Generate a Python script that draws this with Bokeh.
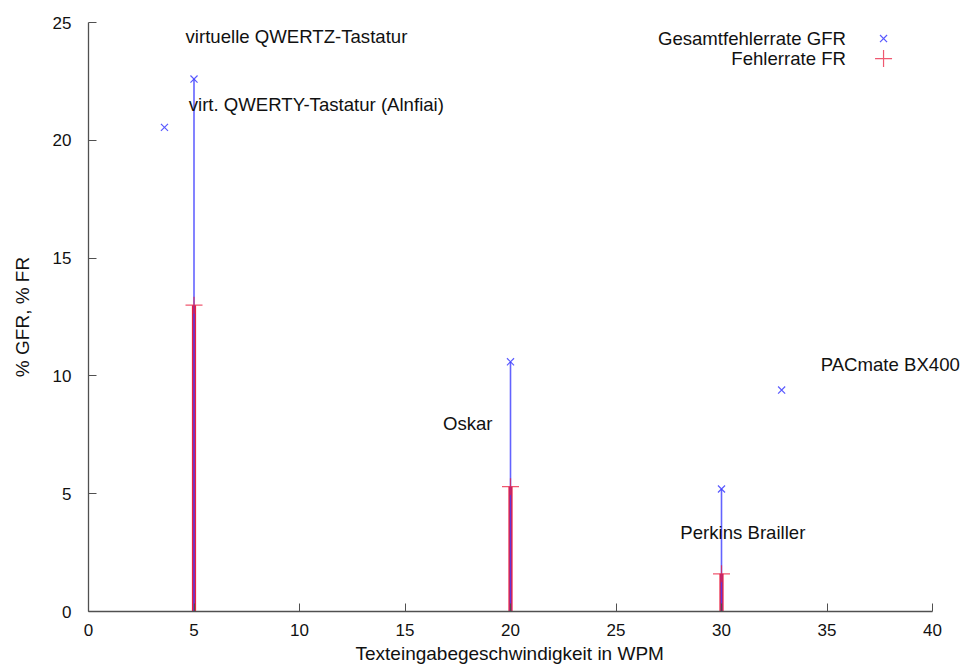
from bokeh.plotting import figure
from bokeh.models import Range1d, SingleIntervalTicker, ColumnDataSource, Label, Title
from bokeh.embed import file_html
from bokeh.resources import INLINE

# ---- data ----
wpm = [5, 20, 30]                 # devices with both rates
gfr = [22.6, 10.6, 5.2]           # Gesamtfehlerrate GFR (%)
fr = [13.0, 5.3, 1.6]             # Fehlerrate FR (%)
wpm_only = [3.6, 32.85]           # devices with GFR only
gfr_only = [20.55, 9.4]

label_text = ["virtuelle QWERTZ-Tastatur", "virt. QWERTY-Tastatur (Alnfiai)",
              "Oskar", "Perkins Brailler", "PACmate BX400"]
label_x = [4.6, 4.75, 19.15, 28.05, 34.7]
label_y = [24.4, 21.5, 8.0, 3.35, 10.5]
label_align = ["left", "left", "right", "left", "left"]

legend_text = ["Gesamtfehlerrate GFR", "Fehlerrate FR"]
legend_text_x = [35.9, 35.9]
legend_y = [24.32, 23.47]
legend_key_x = [37.68, 37.68]

X_AXIS = (0, 40)
Y_AXIS = (0, 25)
X_LABEL = "Texteingabegeschwindigkeit in WPM"
Y_LABEL = "% GFR, % FR"

FONT = "Liberation Sans"
BLUE = "#3c3cff"
RED = "#ea2040"
TXT = "18.6px"

# frame extends past x=40 to the window edge so labels are not clipped;
# the visible axis is limited to 0..40 via bounds
FRAME_LEFT, AXIS_RIGHT, WIDTH = 88, 932, 963
x_end = X_AXIS[1] * (WIDTH - FRAME_LEFT) / (AXIS_RIGHT - FRAME_LEFT)

p = figure(width=WIDTH, height=665, output_backend="svg", toolbar_location=None,
           x_range=Range1d(X_AXIS[0], x_end), y_range=Range1d(*Y_AXIS),
           min_border_left=FRAME_LEFT, min_border_right=0, min_border_top=22,
           min_border_bottom=54)
p.outline_line_color = None
p.xgrid.visible = False
p.ygrid.visible = False
p.xaxis.bounds = X_AXIS
p.yaxis.bounds = Y_AXIS

for ax in (p.xaxis[0], p.yaxis[0]):
    ax.ticker = SingleIntervalTicker(interval=5)
    ax.minor_tick_line_color = None
    ax.major_tick_in = 8
    ax.major_tick_out = 0
    ax.axis_line_color = "#505050"
    ax.axis_line_width = 1.3
    ax.major_tick_line_color = "#505050"
    ax.major_label_text_font = FONT
    ax.major_label_text_font_size = "17px"
    ax.major_label_text_color = "#111111"
    ax.axis_label_text_font = FONT
    ax.axis_label_text_font_size = "19px"
    ax.axis_label_text_font_style = "normal"
    ax.axis_label_text_color = "#111111"

p.xaxis.major_label_standoff = 8
p.yaxis.axis_label = Y_LABEL
p.yaxis.major_label_standoff = 13
p.yaxis.axis_label_standoff = 17

# x-axis title centred under the 0..40 axis (not the wider frame)
p.add_layout(Title(text=X_LABEL, align="left", offset=267, standoff=4,
                   text_font=FONT, text_font_size="19px",
                   text_font_style="normal", text_color="#111111"), "below")

src = ColumnDataSource(dict(x=wpm, gfr=gfr, fr=fr, zero=[0] * len(wpm)))

# FR impulses (thick red), then GFR impulses (blue) on top
p.segment(x0="x", y0="zero", x1="x", y1="fr", source=src,
          line_color=RED, line_width=4.2)
p.segment(x0="x", y0="zero", x1="x", y1="gfr", source=src,
          line_color=BLUE, line_width=1.6, line_alpha=0.8)

# GFR points
p.scatter(x="x", y="gfr", source=src, marker="x", size=10,
          line_color=BLUE, line_width=1.2, line_alpha=0.85)
p.scatter(x=wpm_only, y=gfr_only, marker="x", size=10,
          line_color=BLUE, line_width=1.2, line_alpha=0.85)
# FR points
p.scatter(x="x", y="fr", source=src, marker="cross", size=17,
          line_color=RED, line_width=1.2, line_alpha=0.75)

# device labels
for t, x, y, a in zip(label_text, label_x, label_y, label_align):
    p.add_layout(Label(x=x, y=y, text=t, text_align=a, text_baseline="middle",
                       text_font=FONT, text_font_size=TXT, text_color="#111111"))

# legend
for t, x, y in zip(legend_text, legend_text_x, legend_y):
    p.add_layout(Label(x=x, y=y, text=t, text_align="right", text_baseline="middle",
                       text_font=FONT, text_font_size=TXT, text_color="#111111"))
p.scatter(x=legend_key_x[:1], y=legend_y[:1], marker="x", size=10,
          line_color=BLUE, line_width=1.2, line_alpha=0.85)
p.scatter(x=legend_key_x[1:], y=legend_y[1:], marker="cross", size=17,
          line_color=RED, line_width=1.2, line_alpha=0.75)

open("out.html", "w").write(file_html(p, INLINE))
